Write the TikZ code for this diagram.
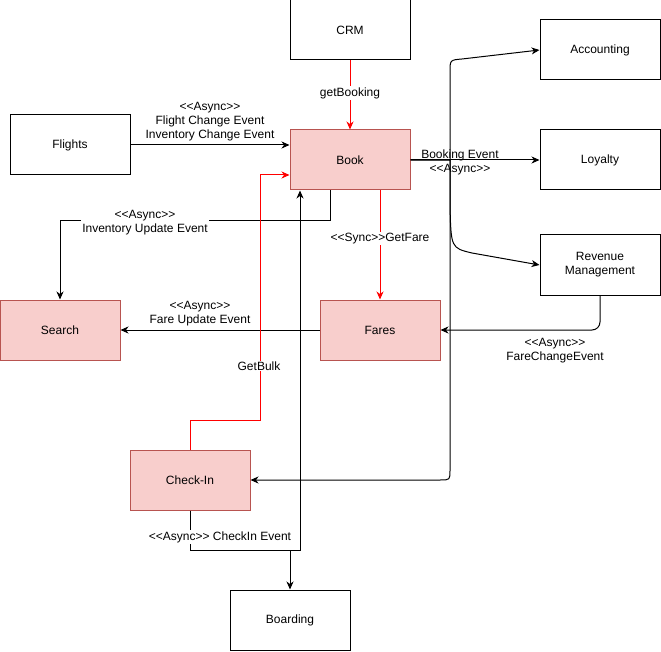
\documentclass[tikz,border=0pt]{standalone}
\usepackage{fontspec}
\setmainfont{Liberation Sans}[Ligatures=TeXOff]
\usetikzlibrary{arrows.meta}
\definecolor{pinkfill}{HTML}{F8CECC}
\definecolor{pinkline}{HTML}{B85450}
\tikzset{
  box/.style={draw=black, fill=white, line width=1pt, minimum width=120pt, minimum height=60pt, inner sep=2pt, align=center, font=\fontsize{12}{14}\selectfont},
  pinkbox/.style={box, draw=pinkline, fill=pinkfill},
  edge/.style={draw=black, line width=1pt, -{Stealth[length=8pt,width=7pt,inset=2.5pt]}},
  redge/.style={edge, draw=red, -{Stealth[length=8pt,width=7pt,inset=2.5pt,fill=red]}},
  lbl/.style={font=\fontsize{12}{14}\selectfont, align=center, inner sep=1pt},
  wlbl/.style={lbl, fill=white}
}
\begin{document}
\begin{tikzpicture}[x=1pt,y=-1pt]
\useasboundingbox (0,0) rectangle (661,652);
% nodes
\node[box] (crm) at (350,30) {CRM};
\node[box] (acct) at (600,50) {Accounting};
\node[box] (flights) at (70,145) {Flights};
\node[pinkbox] (book) at (350,160) {Book};
\node[box] (loyalty) at (600,160) {Loyalty};
\node[box] (rev) at (600,265) {Revenue\\Management};
\node[pinkbox] (search) at (60,330) {Search};
\node[pinkbox] (fares) at (380,330) {Fares};
\node[pinkbox] (checkin) at (190,480) {Check-In};
\node[box] (boarding) at (290,620) {Boarding};
% connectors
\draw[redge] (crm) -- (book) node[wlbl, pos=0.47] {getBooking};
\draw[edge] (flights.east) -- (flights.east -| book.west);
\node[lbl] (lflights) at (210,122) {<<Async>>\\Flight Change Event\\Inventory Change Event};
\draw[edge] ([xshift=-20pt]book.south) -- ++(0,30) -| (search.north);
\node[wlbl] (linv) at (145,223) {<<Async>>\\Inventory Update Event};
\draw[redge] (book.south -| fares.north) -- (fares.north) node[wlbl, pos=0.44] {<<Sync>>GetFare};
\draw[edge] (fares.west) -- (search.east);
\node[lbl] (lfare) at (200,314) {<<Async>>\\Fare Update Event};
\draw[edge, rounded corners=8pt] (rev.south) |- (fares.east);
\node[lbl] (lfce) at (555,351) {<<Async>>\\FareChangeEvent};
\draw[edge] (book.east) -- (loyalty.west);
\node[lbl] (lbook) at (460,162) {Booking Event\\<<Async>>};
\draw[edge] (book.east) -- (450,160) -- (450,72) .. controls (450,60) .. (462,59) -- (acct.west);
\draw[edge] (book.east) -- (450,160) -- (450,205) .. controls (451,248) .. (472,253) -- (rev.west);
\draw[edge] (book.east) -- (450,160) -- (450,470) .. controls (450,480) .. (440,480) -- (checkin.east);
\draw[redge] (checkin.north) |- (260,420) |- ([yshift=-15pt]book.west);
\node[wlbl] (lbulk) at (259,366) {GetBulk};
\draw[edge] (checkin.south) -- (190,550) -| (boarding.north);
\draw[edge] (checkin.south) -- (190,550) -| ([xshift=-50pt]book.south);
\node[wlbl] (lcheck) at (220,537) {<<Async>> CheckIn Event};
\end{tikzpicture}
\end{document}
